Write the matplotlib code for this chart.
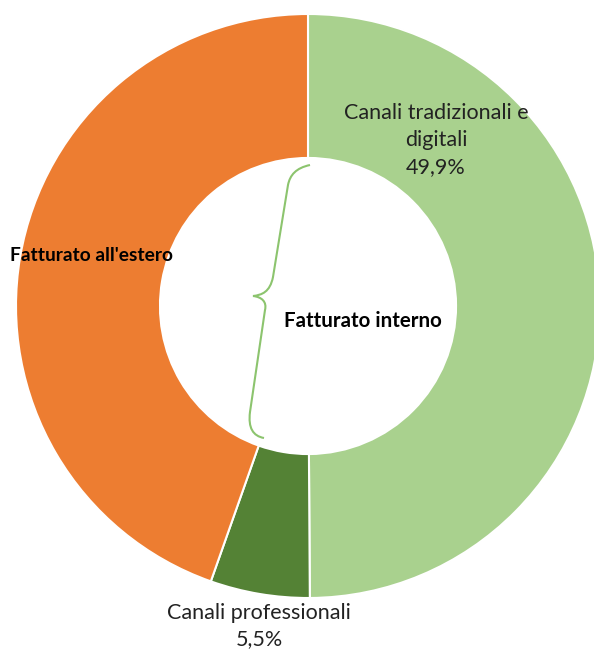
import matplotlib
matplotlib.use('Agg')
import matplotlib.pyplot as plt
from matplotlib.path import Path
from matplotlib.patches import PathPatch

# data
categories = ["Canali tradizionali e\ndigitali", "Canali professionali", "Fatturato all'estero"]
values = [49.9, 5.5, 44.6]
colors = ["#A9D18E", "#548235", "#ED7D31"]

W, H = 594, 650
CX, CY, R = 308, 306, 292


def px(x, y):
    # pixel (from top-left) -> data coords
    return (x - CX) / R, (CY - y) / R


fig = plt.figure(figsize=(W / 100, H / 100), dpi=100)
ax = fig.add_axes([0, 0, 1, 1])

ax.pie(values, colors=colors, startangle=90, counterclock=False, radius=1,
       wedgeprops=dict(width=0.493, edgecolor="white", linewidth=1.5))

ax.set_xlim(px(0, 0)[0], px(W, 0)[0])
ax.set_ylim(px(0, H)[1], px(0, 0)[1])
ax.set_aspect("equal")
ax.axis("off")

font = "Lato"

ax.text(*px(436, 140), f"{categories[0]}\n{values[0]:.1f}%".replace(".", ","),
        ha="center", va="center", fontsize=15.5, family=font, color="#222222",
        linespacing=1.45)
ax.text(*px(259, 626), f"{categories[1]}\n{values[1]:.1f}%".replace(".", ","),
        ha="center", va="center", fontsize=15.5, family=font, color="#222222",
        linespacing=1.35)
ax.text(*px(10, 256), categories[2], ha="left", va="center", fontsize=13.8,
        family=font, fontweight="bold", color="black")
ax.text(*px(363, 321), "Fatturato interno", ha="center", va="center",
        fontsize=14.8, family=font, fontweight="bold", color="black")

# curly brace for the domestic part
pts = [(310, 165), (296, 168), (290, 175), (288, 185),
       (273, 277),
       (270, 292), (262, 295), (253, 296),
       (262, 297), (267, 302), (265, 310),
       (250, 412),
       (248, 428), (253, 436), (264, 438)]
codes = [Path.MOVETO, Path.CURVE4, Path.CURVE4, Path.CURVE4,
         Path.LINETO,
         Path.CURVE4, Path.CURVE4, Path.CURVE4,
         Path.CURVE4, Path.CURVE4, Path.CURVE4,
         Path.LINETO,
         Path.CURVE4, Path.CURVE4, Path.CURVE4]
brace = Path([px(x, y) for x, y in pts], codes)
ax.add_patch(PathPatch(brace, facecolor="none", edgecolor="#8CC46E", lw=1.5))

fig.savefig("out.png", dpi=100)
